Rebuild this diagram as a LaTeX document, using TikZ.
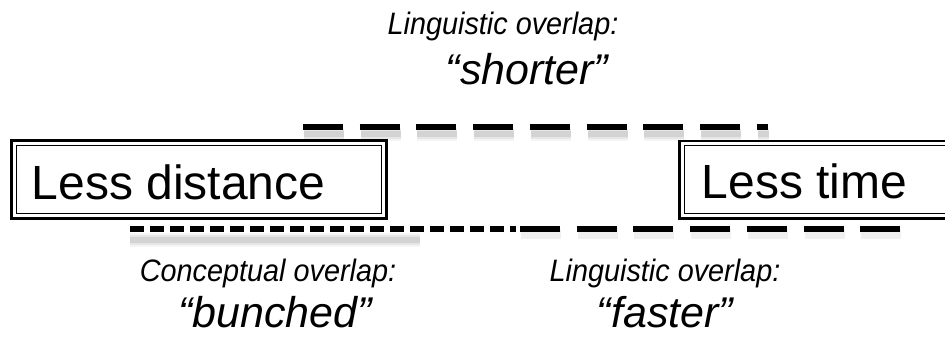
\documentclass[tikz,border=0pt]{standalone}
\usepackage{fontspec}
\setmainfont{Liberation Sans}
\newfontfamily\labfont[FakeStretch=0.93]{Liberation Sans}
\begin{document}
\begin{tikzpicture}[x=1pt,y=-1pt,
  frameouter/.style={line width=2.4pt},
  frameinner/.style={line width=1.4pt},
  boxtext/.style={font=\fontsize{48}{50}\selectfont, inner sep=0pt, anchor=base west},
  labsmall/.style={font=\labfont\itshape\fontsize{31}{32}\selectfont, inner sep=0pt, anchor=base},
  labbig/.style={font=\itshape\fontsize{43}{45}\selectfont, inner sep=0pt, anchor=base},
  longdash/.style={line width=5.5pt, dash pattern=on 40pt off 16.7pt},
  finedash/.style={line width=5.5pt, dash pattern=on 14pt off 6pt},
  shadeA/.style={black, opacity=0.04, line width=14pt},
  shadeB/.style={black, opacity=0.06, line width=10pt},
  shadeC/.style={black, opacity=0.08, line width=6pt}
]
\clip (0,0) rectangle (945,339);
\fill[white] (0,0) rectangle (945,339);

% boxes
\draw[frameouter] (11.5,140.5) rectangle (386.5,218.5);
\draw[frameinner] (16.5,145.5) rectangle (381.5,213.5);
\draw[frameouter] (679.5,141) rectangle (965,218.5);
\draw[frameinner] (684.5,145.5) rectangle (965,213.5);
\node[boxtext] (ld) at (31.5,200) {Less distance};
\node[boxtext] (lt) at (701.5,199) {Less time};

% coordinates of the dashed lines
\coordinate (ta) at (303,127);
\coordinate (tb) at (768,127);
\coordinate (fa) at (130,229);
\coordinate (fb) at (516,229);
\coordinate (fs) at (420,229);
\coordinate (la) at (520,229);
\coordinate (lb) at (903,229);

% shadows
\foreach \s in {shadeA,shadeB,shadeC}{
  \draw[longdash,\s] ([xshift=1pt,yshift=-7pt]ta) -- ([xshift=1pt,yshift=-7pt]tb);
  \draw[\s] ([yshift=-11pt]fa) -- ([yshift=-11pt]fs);
}
\draw[longdash,shadeB] ([xshift=1pt,yshift=-5pt]la) -- ([xshift=1pt,yshift=-5pt]lb);

% dashed lines
\draw[longdash] (ta) -- (tb);
\draw[finedash] (fa) -- (fb);
\draw[longdash] (la) -- (lb);

% labels
\node[labsmall] (t1) at (503,35) {Linguistic overlap:};
\node[labbig] (t2) at (527,85) {“shorter”};
\node[labsmall] (b1) at (268,281) {Conceptual overlap:};
\node[labbig] (b2) at (275,327) {“bunched”};
\node[labsmall] (c1) at (665,281) {Linguistic overlap:};
\node[labbig] (c2) at (665,327) {“faster”};
\end{tikzpicture}
\end{document}
